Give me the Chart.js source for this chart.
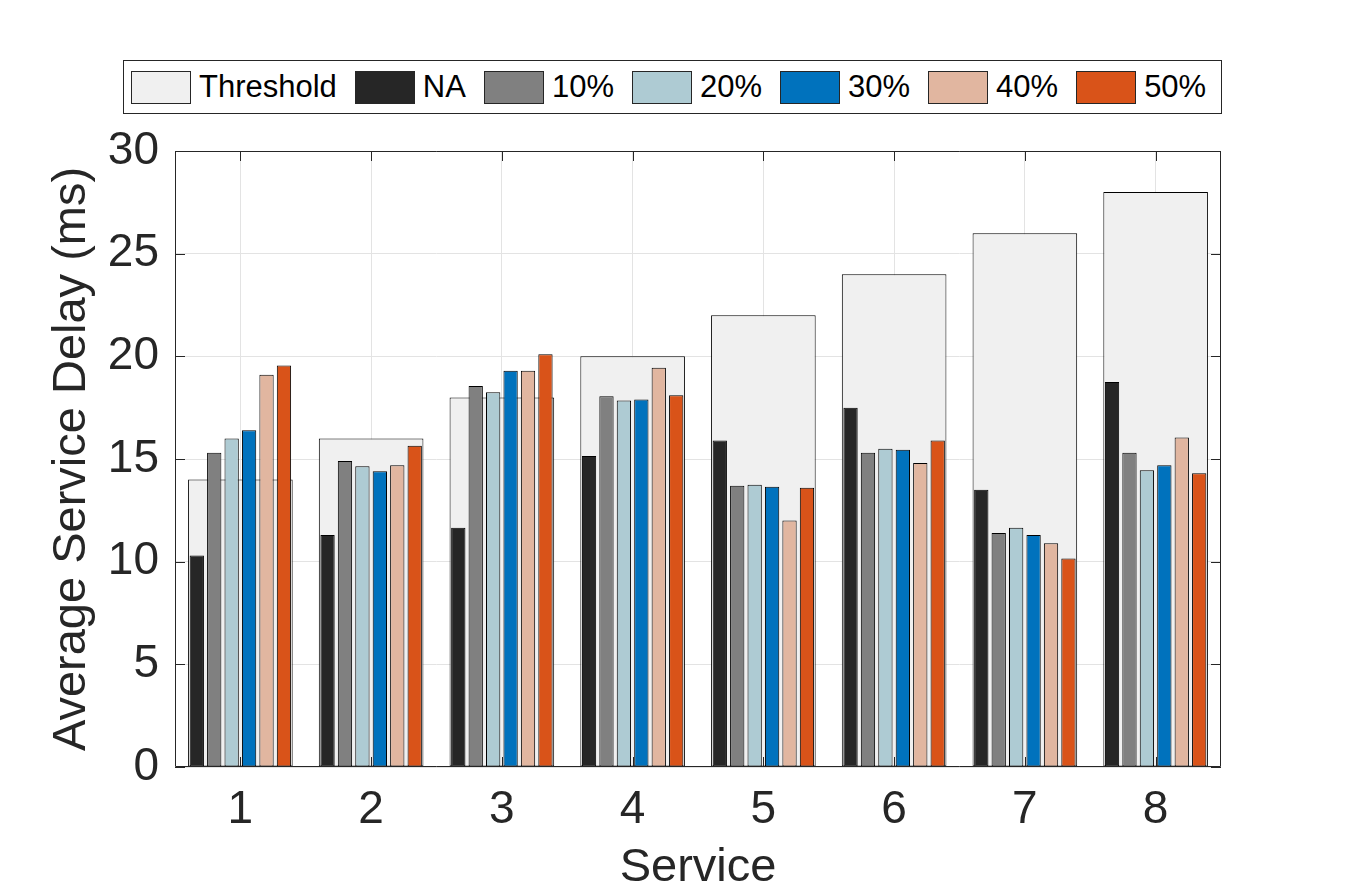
<!DOCTYPE html>
<html>
<head>
<meta charset="utf-8">
<script src="https://cdn.jsdelivr.net/npm/chart.js@4.4.0/dist/chart.umd.min.js"></script>
<style>
html, body { margin: 0; padding: 0; background: #fff; }
#wrap { position: relative; width: 1348px; height: 896px; }
#legend {
    position: absolute; left: 123px; top: 60px; width: 1099px; height: 54px;
    border: 1px solid #262626; box-sizing: border-box; background: #fff;
    display: flex; align-items: center; padding-left: 7px;
    font-family: "Liberation Sans", Arial, Helvetica, sans-serif; font-size: 31px; color: #000;
}
.item { display: flex; align-items: center; margin-right: 18px; }
.swatch { width: 60px; height: 33px; border: 1px solid #262626; box-sizing: border-box; margin-right: 8px; }
</style>
</head>
<body>
<div id="wrap">
    <canvas id="delay_graph" width="1348" height="896"></canvas>
    <div id="legend"></div>
</div>
<script>
const services = ["1", "2", "3", "4", "5", "6", "7", "8"]
const yTicks = [0, 5, 10, 15, 20, 25, 30]

const threshold = [14, 16, 18, 20, 22, 24, 26, 28]
const delayNA = [10.3, 11.3, 11.65, 15.15, 15.9, 17.5, 13.5, 18.75]
const delay10 = [15.3, 14.9, 18.55, 18.05, 13.7, 15.3, 11.4, 15.3]
const delay20 = [16.0, 14.65, 18.25, 17.85, 13.75, 15.5, 11.65, 14.45]
const delay30 = [16.4, 14.4, 19.3, 17.9, 13.65, 15.45, 11.3, 14.7]
const delay40 = [19.1, 14.7, 19.3, 19.45, 12.0, 14.8, 10.9, 16.05]
const delay50 = [19.55, 15.65, 20.1, 18.1, 13.6, 15.9, 10.15, 14.3]

const seriesNames = ["NA", "10%", "20%", "30%", "40%", "50%"]
const seriesValues = [delayNA, delay10, delay20, delay30, delay40, delay50]
const seriesColors = ["#262626", "#808080", "#aecbd3", "#0072bd", "#e1b6a0", "#d95319"]
const thresholdColor = "#f0f0f0"

const fontFamily = '"Liberation Sans", Arial, Helvetica, sans-serif'
const textColor = "#262626"

// threshold sits behind the grouped bars, centred on each service
let datasets = [{
    label: "Threshold",
    data: threshold,
    backgroundColor: thresholdColor,
    borderColor: "#000",
    borderWidth: 1,
    borderSkipped: false,
    grouped: false,
    order: 1,
    categoryPercentage: 0.8,
    barPercentage: 1
}]
for(let i = 0; i < seriesNames.length; i++){
    datasets.push({
        label: seriesNames[i],
        data: seriesValues[i],
        backgroundColor: seriesColors[i],
        borderColor: "#000",
        borderWidth: 1,
        borderSkipped: false,
        order: 0,
        categoryPercentage: 0.8,
        barPercentage: 0.82
    })
}

// legend drawn as html so the box spacing matches
const legend = document.getElementById("legend")
datasets.forEach(ds => {
    let item = document.createElement("div")
    item.className = "item"
    let sw = document.createElement("span")
    sw.className = "swatch"
    sw.style.background = ds.backgroundColor
    let txt = document.createElement("span")
    txt.innerText = ds.label
    item.appendChild(sw)
    item.appendChild(txt)
    legend.appendChild(item)
})

// box round the plot area with inward tick marks
const axisBox = {
    id: "axisBox",
    afterDatasetsDraw(chart){
        const {ctx, chartArea: a, scales} = chart
        const len = 10
        ctx.save()
        ctx.strokeStyle = textColor
        ctx.lineWidth = 1
        ctx.beginPath()
        ctx.rect(a.left + 0.5, a.top + 0.5, a.right - a.left - 1, a.bottom - a.top - 1)
        scales.y.ticks.forEach(t => {
            let py = Math.round(scales.y.getPixelForValue(t.value)) + 0.5
            ctx.moveTo(a.left, py)
            ctx.lineTo(a.left + len, py)
            ctx.moveTo(a.right, py)
            ctx.lineTo(a.right - len, py)
        })
        scales.x.ticks.forEach((t, i) => {
            let px = Math.round(scales.x.getPixelForTick(i)) + 0.5
            ctx.moveTo(px, a.bottom)
            ctx.lineTo(px, a.bottom - len)
            ctx.moveTo(px, a.top)
            ctx.lineTo(px, a.top + len)
        })
        ctx.stroke()
        ctx.restore()
    }
}

const config = {
    type: "bar",
    data: {
        labels: services,
        datasets: datasets
    },
    options: {
        responsive: false,
        animation: false,
        layout: {
            padding: {top: 151, right: 127, left: 0, bottom: 0}
        },
        plugins: {
            legend: {display: false},
            tooltip: {enabled: false}
        },
        scales: {
            x: {
                offset: true,
                grid: {offset: false, color: "#e3e3e3", drawTicks: false},
                border: {display: false},
                ticks: {
                    color: textColor,
                    padding: 16,
                    font: {family: fontFamily, size: 46}
                },
                title: {
                    display: true,
                    text: "Service",
                    color: textColor,
                    padding: {top: 0, bottom: 0},
                    font: {family: fontFamily, size: 47}
                },
                afterFit(scale){
                    scale.height = 129
                }
            },
            y: {
                min: 0,
                max: 30,
                afterBuildTicks(scale){
                    scale.ticks = yTicks.map(v => ({value: v}))
                },
                grid: {color: "#e3e3e3", drawTicks: false},
                border: {display: false},
                ticks: {
                    color: textColor,
                    padding: 16,
                    font: {family: fontFamily, size: 46}
                },
                title: {
                    display: true,
                    text: "Average Service Delay (ms)",
                    color: textColor,
                    padding: {top: 44, bottom: 0},
                    font: {family: fontFamily, size: 47}
                },
                afterFit(scale){
                    scale.width = 175
                }
            }
        }
    },
    plugins: [axisBox]
}

const chartId = document.getElementById("delay_graph")
const chart = new Chart(chartId, config)
</script>
</body>
</html>
